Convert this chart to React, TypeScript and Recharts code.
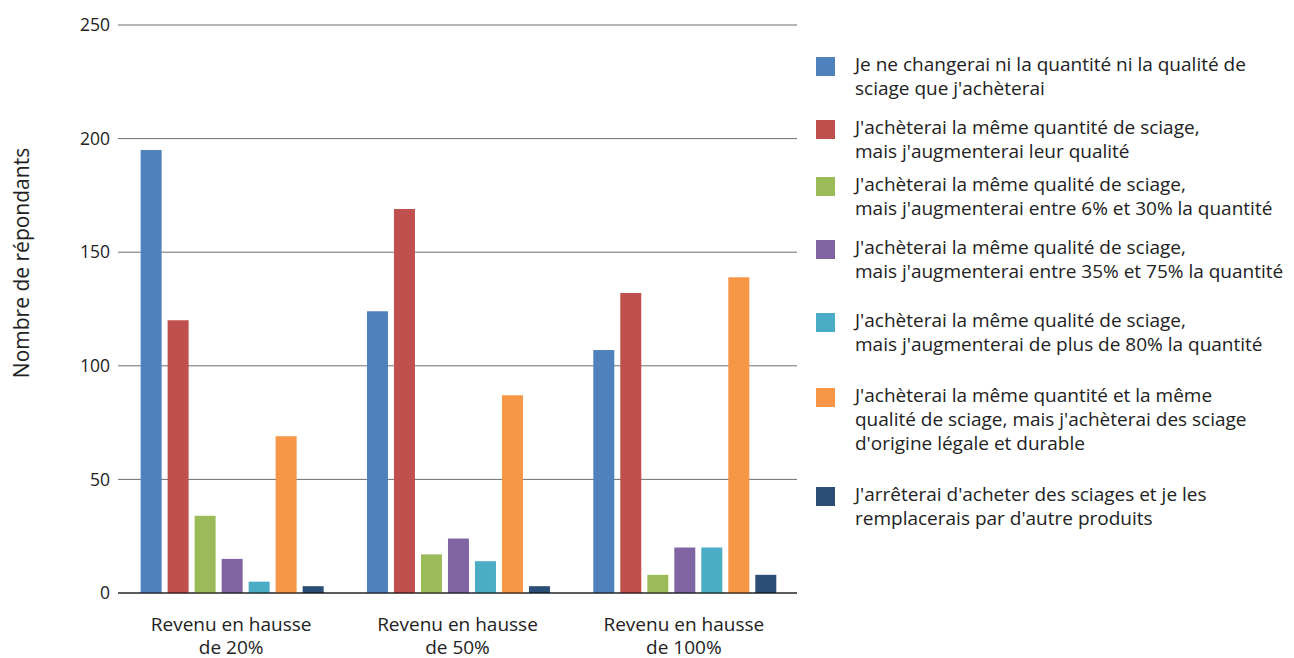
import { Bar, BarChart, CartesianGrid, XAxis, YAxis } from "recharts";

const categories = ["Revenu en hausse|de 20%", "Revenu en hausse|de 50%", "Revenu en hausse|de 100%"];

const seriesNames = [
  "Je ne changerai ni la quantité ni la qualité de|sciage que j'achèterai",
  "J'achèterai la même quantité de sciage,|mais j'augmenterai leur qualité",
  "J'achèterai la même qualité de sciage,|mais j'augmenterai entre 6% et 30% la quantité",
  "J'achèterai la même qualité de sciage,|mais j'augmenterai entre 35% et 75% la quantité",
  "J'achèterai la même qualité de sciage,|mais j'augmenterai de plus de 80% la quantité",
  "J'achèterai la même quantité et la même|qualité de sciage, mais j'achèterai des sciage|d'origine légale et durable",
  "J'arrêterai d'acheter des sciages et je les|remplacerais par d'autre produits",
];

const seriesColors = ["#4f81bd", "#c0504d", "#9bbb59", "#8064a2", "#4bacc6", "#f79646", "#2c4d75"];

const aucunChangement = [195, 124, 107];
const qualiteHausse = [120, 169, 132];
const quantite6a30 = [34, 17, 8];
const quantite35a75 = [15, 24, 20];
const quantitePlus80 = [5, 14, 20];
const origineLegale = [69, 87, 139];
const arret = [3, 3, 8];

const seriesValues = [aucunChangement, qualiteHausse, quantite6a30, quantite35a75, quantitePlus80, origineLegale, arret];

const yTicks = [0, 50, 100, 150, 200, 250];

const data = categories.map((cat, i) => {
  const row: Record<string, string | number> = { cat };
  seriesValues.forEach((vals, s) => {
    row["s" + s] = vals[i];
  });
  return row;
});

const font = "'Open Sans', sans-serif";
const legendTops = [57, 120, 177, 240, 313, 388, 487];

function CategoryTick({ x, y, payload }: any) {
  const lines = String(payload.value).split("|");
  return (
    <text x={x} y={y} textAnchor="middle" fontFamily={font} fontSize={19} fill="#222">
      {lines.map((l, i) => (
        <tspan key={i} x={x} dy={i === 0 ? 30 : 23}>
          {l}
        </tspan>
      ))}
    </text>
  );
}

export default function App() {
  return (
    <div style={{ position: "relative", width: 1294, height: 658, background: "#fff" }}>
      <style>{"body{margin:0}"}</style>
      <BarChart
        width={820}
        height={658}
        data={data}
        margin={{ top: 25, right: 23, bottom: 0, left: 0 }}
        barCategoryGap="10%"
        barGap={6}
      >
        <CartesianGrid vertical={false} stroke="#6e6e6e" />
        <XAxis
          dataKey="cat"
          axisLine={{ stroke: "#000" }}
          tickLine={false}
          tick={<CategoryTick />}
          interval={0}
          height={65}
        />
        <YAxis
          width={118}
          domain={[0, 250]}
          ticks={yTicks}
          axisLine={false}
          tickLine={false}
          tickSize={0}
          tickMargin={8}
          tick={{ fontFamily: font, fontSize: 17.5, fill: "#222" }}
          label={{
            content: () => (
              <text
                x={29}
                y={263}
                transform="rotate(-90 29 263)"
                textAnchor="middle"
                fontFamily={font}
                fontSize={21}
                fill="#222"
              >
                Nombre de répondants
              </text>
            ),
          }}
        />
        {seriesValues.map((_, s) => (
          <Bar key={s} dataKey={"s" + s} fill={seriesColors[s]} isAnimationActive={false} />
        ))}
      </BarChart>
      {seriesNames.map((name, s) => (
        <div key={s} style={{ position: "absolute", left: 816, top: legendTops[s], display: "flex" }}>
          <div style={{ width: 19, height: 19, background: seriesColors[s], flex: "none" }} />
          <div
            style={{
              marginLeft: 20,
              marginTop: -5.5,
              fontFamily: font,
              fontSize: 19,
              lineHeight: "24px",
              color: "#222",
              whiteSpace: "nowrap",
            }}
          >
            {name.split("|").map((l, i) => (
              <div key={i}>{l}</div>
            ))}
          </div>
        </div>
      ))}
    </div>
  );
}
